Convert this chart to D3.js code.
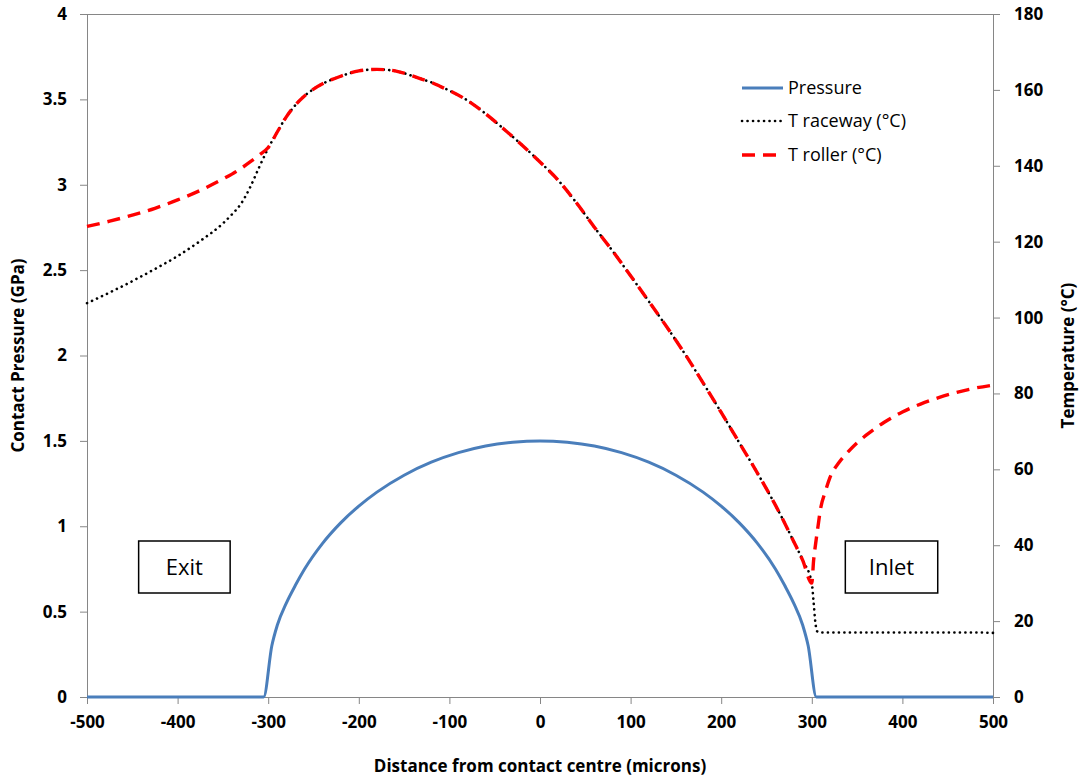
<!DOCTYPE html>
<html>
<head>
<meta charset="utf-8">
<script src="https://cdn.jsdelivr.net/npm/d3@7"></script>
<style>
  html, body { margin: 0; padding: 0; background: #fff; }
  svg { display: block; }
  text { font-family: "Open Sans", "DejaVu Sans", sans-serif; }
</style>
</head>
<body>
<svg id="chart" width="1082" height="778"></svg>
<script>
// ---------- data ----------
const pressureX = [-500, -305, -296, -290, -280, -270, -260, -240, -220, -200, -180, -150, -120, -90, -60, -30, 0,
                   30, 60, 90, 120, 150, 180, 200, 220, 240, 260, 270, 280, 290, 296, 305, 500];
const pressureGPa = [0, 0, 0.30, 0.42, 0.55, 0.654, 0.748, 0.90, 1.02, 1.118, 1.20, 1.299, 1.375, 1.431, 1.470, 1.492, 1.50,
                     1.492, 1.470, 1.431, 1.375, 1.299, 1.20, 1.118, 1.02, 0.90, 0.748, 0.654, 0.55, 0.42, 0.30, 0, 0];

const tempX = [-500, -475, -450, -425, -400, -375, -350, -340, -330, -320, -310, -300, -290, -280, -270, -260, -250, -240, -230, -220,
               -210, -200, -190, -180, -170, -160, -150, -140, -130, -120, -110, -100, -80, -60, -40, -20, 0, 20, 40, 60,
               80, 100, 120, 140, 160, 180, 200, 220, 240, 260, 280, 290, 300, 302, 304, 306, 310, 315, 320, 330, 340,
               350, 360, 380, 400, 420, 440, 460, 480, 500];
const tRaceway = [103.8, 106.6, 109.6, 112.8, 116.2, 120.2, 124.8, 127.2, 130.0, 134.3, 139.6, 144.6, 148.9, 152.9, 156.0, 158.4, 160.2, 161.6, 162.7, 163.6,
                  164.4, 165.0, 165.3, 165.4, 165.3, 165.0, 164.4, 163.6, 162.8, 162.0, 160.9, 159.8, 157.2, 153.7, 149.7, 145.5, 141.0, 136.2, 130.3, 123.8,
                  117.6, 111.0, 104.3, 97.5, 90.4, 82.8, 75.0, 67.0, 59.0, 50.5, 41.0, 36.0, 30.0, 25.0, 19.5, 17.3, 17.0, 17.0, 17.0, 17.0, 17.0,
                  17.0, 17.0, 17.0, 17.0, 17.0, 17.0, 17.0, 17.0, 16.9];
const tRoller = [124.0, 125.4, 127.0, 128.8, 131.0, 133.5, 136.5, 137.8, 139.3, 141.0, 142.8, 144.8, 148.9, 152.9, 156.0, 158.4, 160.2, 161.6, 162.7, 163.6,
                 164.4, 165.0, 165.3, 165.4, 165.3, 165.0, 164.4, 163.6, 162.8, 162.0, 160.9, 159.8, 157.2, 153.7, 149.7, 145.5, 141.0, 136.2, 130.3, 123.8,
                 117.6, 111.0, 104.3, 97.5, 90.4, 82.8, 75.0, 67.0, 59.0, 50.5, 41.0, 36.0, 30.0, 36.0, 40.0, 43.5, 50.0, 54.2, 57.8, 61.8, 64.6,
                 67.0, 69.0, 72.4, 75.1, 77.2, 78.9, 80.3, 81.4, 82.2];

const xTicks = [-500, -400, -300, -200, -100, 0, 100, 200, 300, 400, 500];
const leftTicks = [0, 0.5, 1, 1.5, 2, 2.5, 3, 3.5, 4];
const rightTicks = [0, 20, 40, 60, 80, 100, 120, 140, 160, 180];
const legendLabels = ["Pressure", "T raceway (°C)", "T roller (°C)"];
const regionLabels = ["Exit", "Inlet"];

// ---------- layout ----------
const L = 87, R = 993, T = 14, B = 697;
const svg = d3.select("#chart");
const x = d3.scaleLinear().domain([-500, 500]).range([L, R]);
const yL = d3.scaleLinear().domain([0, 4]).range([B, T]);
const yR = d3.scaleLinear().domain([0, 180]).range([B, T]);
const axisCol = "#868686";

// plot border top
svg.append("line").attr("x1", L).attr("x2", R).attr("y1", T + 0.5).attr("y2", T + 0.5)
  .attr("stroke", axisCol).attr("stroke-width", 1);

function styleAxis(g) {
  g.selectAll(".domain").attr("stroke", axisCol).attr("stroke-width", 1);
  g.selectAll(".tick line").attr("stroke", axisCol).attr("stroke-width", 1);
  g.selectAll(".tick text").attr("fill", "#000").attr("font-weight", "bold")
    .attr("font-size", 17).attr("font-family", "'Open Sans', sans-serif");
}

const gx = svg.append("g").attr("transform", `translate(0,${B})`)
  .call(d3.axisBottom(x).tickValues(xTicks).tickSize(7).tickSizeOuter(0).tickPadding(12).tickFormat(d => String(d)));
styleAxis(gx);

const gl = svg.append("g").attr("transform", `translate(${L},0)`)
  .call(d3.axisLeft(yL).tickValues(leftTicks).tickSize(7).tickSizeOuter(0).tickPadding(13).tickFormat(d => String(d)));
styleAxis(gl);

const gr = svg.append("g").attr("transform", `translate(${R},0)`)
  .call(d3.axisRight(yR).tickValues(rightTicks).tickSize(7).tickSizeOuter(0).tickPadding(14).tickFormat(d => String(d)));
styleAxis(gr);

// axis titles
svg.append("text").attr("x", (L + R) / 2).attr("y", 772).attr("text-anchor", "middle")
  .attr("font-weight", "bold").attr("font-size", 17).text("Distance from contact centre (microns)");
svg.append("text").attr("transform", `translate(24,${(T + B) / 2}) rotate(-90)`).attr("text-anchor", "middle")
  .attr("font-weight", "bold").attr("font-size", 17).text("Contact Pressure (GPa)");
svg.append("text").attr("transform", `translate(1074,${(T + B) / 2}) rotate(-90)`).attr("text-anchor", "middle")
  .attr("font-weight", "bold").attr("font-size", 17).text("Temperature (°C)");

// ---------- series ----------
const pressureLine = d3.line().x((d, i) => x(pressureX[i])).y(d => yL(d)).curve(d3.curveMonotoneX);
const tempLine = d3.line().x((d, i) => x(tempX[i])).y(d => yR(d)).curve(d3.curveMonotoneX);

svg.append("path").datum(pressureGPa).attr("d", pressureLine)
  .attr("fill", "none").attr("stroke", "#4a7ebb").attr("stroke-width", 3).attr("stroke-linejoin", "round");

svg.append("path").datum(tRaceway).attr("d", tempLine)
  .attr("fill", "none").attr("stroke", "#000").attr("stroke-width", 2.6)
  .attr("stroke-dasharray", "0.1 5.4").attr("stroke-linecap", "round");

svg.append("path").datum(tRoller).attr("d", tempLine)
  .attr("fill", "none").attr("stroke", "#ff0000").attr("stroke-width", 3.4)
  .attr("stroke-dasharray", "13 8");

// ---------- legend ----------
const legY = [88, 121, 155];
const legStyles = [
  { stroke: "#4a7ebb", width: 3, dash: null, cap: "butt" },
  { stroke: "#000", width: 2.6, dash: "0.1 5.4", cap: "round" },
  { stroke: "#ff0000", width: 3.4, dash: "13 8", cap: "butt" }
];
legendLabels.forEach((lab, i) => {
  const s = legStyles[i];
  const ln = svg.append("line").attr("x1", 742).attr("x2", 783).attr("y1", legY[i]).attr("y2", legY[i])
    .attr("stroke", s.stroke).attr("stroke-width", s.width).attr("stroke-linecap", s.cap);
  if (s.dash) ln.attr("stroke-dasharray", s.dash);
  svg.append("text").attr("x", 788).attr("y", legY[i]).attr("dy", "0.36em")
    .attr("font-size", 18).attr("fill", "#000").text(lab);
});

// ---------- region labels ----------
const boxes = [
  { x0: -443, x1: -342, label: regionLabels[0] },
  { x0: 337, x1: 439, label: regionLabels[1] }
];
boxes.forEach(b => {
  const x0 = x(b.x0), x1 = x(b.x1);
  svg.append("rect").attr("x", x0).attr("y", 541).attr("width", x1 - x0).attr("height", 52)
    .attr("fill", "#fff").attr("stroke", "#000").attr("stroke-width", 1.5);
  svg.append("text").attr("x", (x0 + x1) / 2).attr("y", 567).attr("dy", "0.36em").attr("text-anchor", "middle")
    .attr("font-size", 22).attr("fill", "#000").text(b.label);
});
</script>
</body>
</html>
